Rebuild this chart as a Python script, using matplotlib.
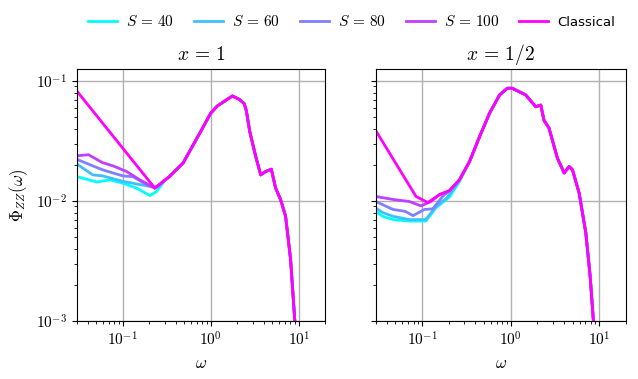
import numpy as np
import matplotlib
matplotlib.use("Agg")
import matplotlib.pyplot as plt
from matplotlib.ticker import FuncFormatter

plt.rcParams['mathtext.fontset'] = 'cm'
plt.rcParams['font.family'] = ['DejaVu Sans']

# ---- data (omega, Phi_ZZ) ----
# x = 1, classical curve
w_cl1 = [0.03, 0.232, 0.34, 0.485, 0.785, 1.0, 1.19, 1.61, 1.76, 2.09, 2.39, 2.53,
         2.77, 3.24, 3.69, 4.2, 4.87, 5.45, 6.2, 7.07, 8.06, 9.0, 9.5]
p_cl1 = [0.083, 0.0128, 0.016, 0.0207, 0.039, 0.054, 0.062, 0.0718, 0.075, 0.0705, 0.065, 0.057,
         0.038, 0.0235, 0.0165, 0.0176, 0.0184, 0.0128, 0.0103, 0.00745, 0.00325, 0.001, 0.0005]

# x = 1, low-frequency parts of the S curves (they join the classical curve afterwards)
w_s40_1 = [0.03, 0.051, 0.072, 0.1, 0.144, 0.204, 0.243, 0.3]
p_s40_1 = [0.0160, 0.0144, 0.0150, 0.0141, 0.0128, 0.0111, 0.0120, 0.0148]
w_s60_1 = [0.03, 0.046, 0.059, 0.1, 0.157, 0.204, 0.25]
p_s60_1 = [0.0204, 0.0165, 0.0162, 0.0146, 0.0137, 0.0132, 0.0131]
w_s80_1 = [0.03, 0.046, 0.059, 0.1, 0.132, 0.187, 0.232]
p_s80_1 = [0.0223, 0.0196, 0.0182, 0.0162, 0.0159, 0.0137, 0.0128]
w_s100_1 = [0.03, 0.041, 0.059, 0.078, 0.111, 0.157, 0.232]
p_s100_1 = [0.0238, 0.0243, 0.0209, 0.0196, 0.0176, 0.0150, 0.0128]

# x = 1/2, classical curve
w_cl2 = [0.03, 0.0855, 0.116, 0.157, 0.204, 0.264, 0.343, 0.446, 0.578, 0.75, 0.916, 1.04,
         1.48, 1.92, 2.19, 2.38, 2.71, 3.37, 4.02, 4.57, 4.99, 5.94, 7.06, 7.9, 8.6, 9.1]
p_cl2 = [0.0386, 0.0109, 0.0097, 0.0113, 0.0122, 0.015, 0.0213, 0.0344, 0.0539, 0.0765, 0.087, 0.087,
         0.0765, 0.061, 0.063, 0.047, 0.0405, 0.0228, 0.0171, 0.0194, 0.0182, 0.0116, 0.00542, 0.00236, 0.001, 0.0005]

# x = 1/2, low-frequency parts of the S curves
w_s40_2 = [0.03, 0.036, 0.047, 0.072, 0.11, 0.144, 0.204, 0.264]
p_s40_2 = [0.0082, 0.00745, 0.0070, 0.0068, 0.0068, 0.0088, 0.0108, 0.0145]
w_s60_2 = [0.03, 0.036, 0.047, 0.072, 0.11, 0.144, 0.19, 0.23]
p_s60_2 = [0.00875, 0.0080, 0.00745, 0.0070, 0.0070, 0.0090, 0.0106, 0.0128]
w_s80_2 = [0.03, 0.047, 0.0645, 0.079, 0.106, 0.132, 0.17, 0.204]
p_s80_2 = [0.0099, 0.0085, 0.0082, 0.00755, 0.0085, 0.0086, 0.0109, 0.0122]
w_s100_2 = [0.03, 0.047, 0.072, 0.097, 0.126, 0.157]
p_s100_2 = [0.0109, 0.0103, 0.0099, 0.0091, 0.0099, 0.0113]

labels = [r'$S\,=\,40$', r'$S\,=\,60$', r'$S\,=\,80$', r'$S\,=\,100$', 'Classical']
titles = [r'$x\,=\,1$', r'$x\,=\,1/2$']


def join(w_low, p_low, w_cl, p_cl):
    # low-frequency quantum part, then follow the classical curve
    w_low = np.asarray(w_low)
    w_cl = np.asarray(w_cl)
    keep = w_cl > w_low[-1]
    return (np.concatenate([w_low, w_cl[keep]]),
            np.concatenate([np.asarray(p_low), np.asarray(p_cl)[keep]]))


panels = [
    ([(w_s40_1, p_s40_1), (w_s60_1, p_s60_1), (w_s80_1, p_s80_1), (w_s100_1, p_s100_1)], (w_cl1, p_cl1)),
    ([(w_s40_2, p_s40_2), (w_s60_2, p_s60_2), (w_s80_2, p_s80_2), (w_s100_2, p_s100_2)], (w_cl2, p_cl2)),
]

colors = plt.cm.cool(np.linspace(0, 1, 5))
pow10 = FuncFormatter(lambda v, _: r'$10^{%d}$' % round(np.log10(v)))

fig = plt.figure(figsize=(6.38, 3.79), dpi=100)
ax1 = fig.add_axes([0.120, 0.153, 0.390, 0.664])
ax2 = fig.add_axes([0.589, 0.153, 0.392, 0.664], sharey=ax1)

for ax, (squant, cl), title in zip([ax1, ax2], panels, titles):
    for i, (w, p) in enumerate(squant):
        ww, pp = join(w, p, *cl)
        ax.plot(ww, pp, color=colors[i], lw=2, label=labels[i])
    ax.plot(cl[0], cl[1], color=colors[4], lw=2, label=labels[4])
    ax.set_xscale('log')
    ax.set_yscale('log')
    ax.set_xlim(0.03, 20)
    ax.set_ylim(1e-3, 0.125)
    ax.xaxis.set_major_formatter(pow10)
    ax.yaxis.set_major_formatter(pow10)
    ax.grid(True, which='major', color='#b0b0b0', lw=1)
    ax.set_axisbelow(True)
    ax.set_title(title, fontsize=14, pad=7)
    ax.set_xlabel(r'$\omega$', fontsize=12)
    ax.tick_params(labelsize=11)

ax1.set_ylabel(r'$\Phi_{ZZ}(\omega)$', fontsize=12)
plt.setp(ax2.get_yticklabels(), visible=False)

handles, labs = ax1.get_legend_handles_labels()
leg = fig.legend(handles, labs, loc='center', bbox_to_anchor=(0.551, 0.943), ncol=5,
                 frameon=False, fontsize=11, handlelength=1.9, handletextpad=0.6,
                 columnspacing=1.3)
leg.get_texts()[-1].set_fontsize(9.5)

fig.savefig('out.png', dpi=100)
